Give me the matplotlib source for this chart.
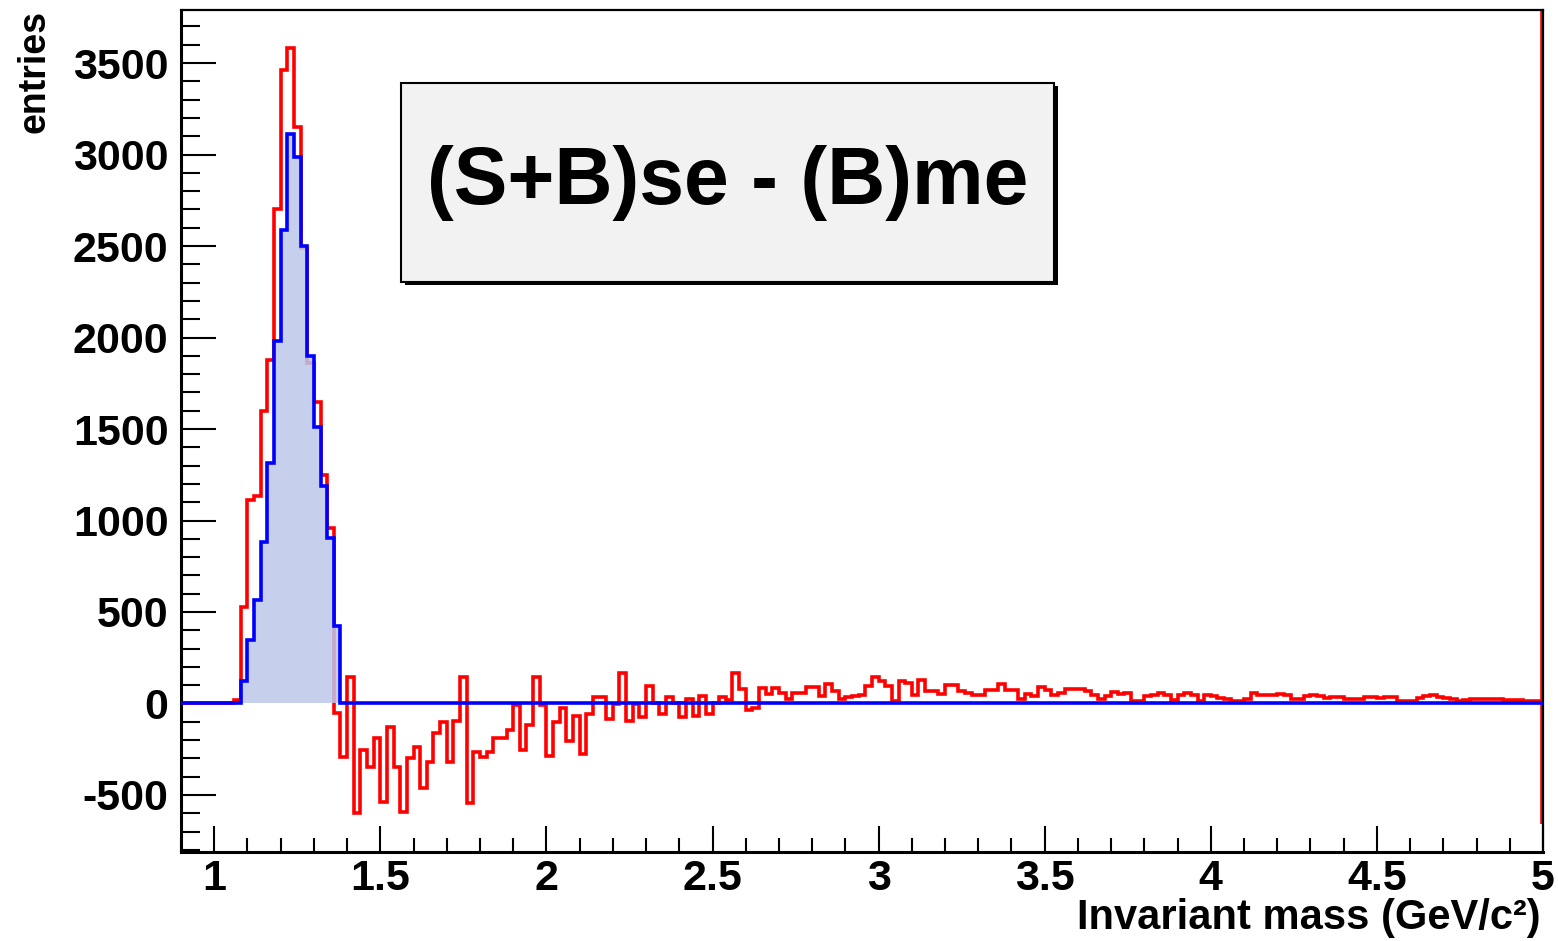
import matplotlib.pyplot as plt
import numpy as np
from matplotlib.ticker import MultipleLocator, FuncFormatter
from matplotlib.patches import Rectangle

plt.rcParams['font.family'] = ['Liberation Sans', 'DejaVu Sans']
plt.rcParams['font.weight'] = 'bold'
plt.rcParams['axes.unicode_minus'] = False

# bins of 0.02 GeV/c^2 from 0.9 to 5.0
x_lo = 0.9
x_hi = 5.0

# (S+B) same event - (B) mixed event, one value per bin
red = [
    0, 0, 0, 0, 0, 0, 0, 0, 20, 530,
    1110, 1135, 1600, 1875, 2700, 3460, 3580, 3150, 2490, 1860,
    1650, 1250, 960, -50, -290, 145, -600, -255, -346, -191,
    -537, -131, -346, -592, -300, -237, -464, -319, -164, -100,
    -319, -95, 146, -546, -264, -291, -264, -191, -191, -146,
    -10, -255, -118, 146, -9, -285, -100, -27, -205, -70,
    -277, -58, 33, 33, -86, -4, 169, -95, -4, -76,
    96, 5, -58, 33, 5, -76, 24, -67, 42, -58,
    5, 33, 20, 169, 78, -36, -22, 87, 51, 87,
    60, 22, 58, 58, 91, 91, 40, 109, 67, 22,
    35, 40, 49, 95, 144, 122, 95, 16, 122, 113,
    49, 131, 67, 67, 53, 100, 100, 67, 55, 46,
    49, 76, 76, 109, 76, 76, 22, 50, 40, 89,
    76, 45, 60, 80, 80, 80, 67, 49, 22, 40,
    64, 50, 58, 16, 16, 40, 49, 58, 49, 20,
    45, 60, 49, 13, 45, 40, 31, 22, 13, 15,
    22, 55, 46, 46, 46, 53, 45, 22, 25, 40,
    49, 40, 31, 35, 35, 27, 25, 22, 35, 33,
    31, 35, 35, 13, 13, 13, 30, 40, 46, 35,
    28, 22, 16, 18, 22, 27, 22, 22, 22, 18,
    18, 18, 16, 16, 16,
]

# signal peak, bins 1.08 .. 1.36, zero elsewhere
blue_peak = [123, 347, 563, 883, 1314, 1981, 2590, 3112, 2986, 2502,
             1898, 1511, 1189, 904, 423]
blue_start = 1.08

edges = np.linspace(x_lo, x_hi, len(red) + 1)
blue = np.zeros(len(red))
i0 = int(round((blue_start - x_lo) / 0.02))
blue[i0:i0 + len(blue_peak)] = blue_peak

edge_line_bottom = -660

fig = plt.figure(figsize=(15.58, 9.41), dpi=100)
ax = fig.add_axes([181 / 1558, 1 - 851.7 / 941, 1362 / 1558, 841.7 / 941])

ax.stairs(red, edges, color='#ff0000', lw=2.6, zorder=2)
ax.vlines(x_hi - 0.004, edge_line_bottom, 3790, color='#ff0000', lw=2.6, zorder=2)
ax.stairs(blue, edges, fill=True, color='#bcc8ea', alpha=0.85, zorder=3)
ax.stairs(blue, edges, color='#0000ff', lw=2.6, zorder=4)

ax.set_xlim(x_lo, x_hi)
ax.set_ylim(-810, 3790)

ax.set_xticks(np.arange(1, 5.01, 0.5))
ax.xaxis.set_minor_locator(MultipleLocator(0.1))
ax.set_yticks(np.arange(-500, 3501, 500))
ax.yaxis.set_minor_locator(MultipleLocator(100))
ax.xaxis.set_major_formatter(FuncFormatter(lambda v, p: f'{v:g}'))
ax.yaxis.set_major_formatter(FuncFormatter(lambda v, p: f'{v:.0f}'))

ax.tick_params(axis='both', which='both', direction='in', top=False, right=False,
               labelsize=31, width=1.5)
ax.tick_params(axis='x', which='major', length=19, pad=5)
ax.tick_params(axis='x', which='minor', length=10)
ax.tick_params(axis='y', which='major', length=25, pad=9)
ax.tick_params(axis='y', which='minor', length=14)

for s in ax.spines.values():
    s.set_linewidth(1.6)
ax.spines['left'].set_linewidth(2.2)
ax.spines['bottom'].set_linewidth(2.2)

ax.set_xlabel('Invariant mass (GeV/c²)', fontsize=30, fontweight='bold')
ax.xaxis.set_label_coords(0.998, -0.055)
ax.xaxis.label.set_horizontalalignment('right')
ax.set_ylabel('entries', fontsize=27, fontweight='bold', loc='top')
ax.yaxis.set_label_coords(-0.094, 1.0)

# title box with shadow
bx, by, bw, bh = 0.1615, 0.6768, 0.4795, 0.2365
ax.add_patch(Rectangle((bx + 0.003, by - 0.004), bw, bh, transform=ax.transAxes,
                       facecolor='#000000', edgecolor='none', zorder=5))
ax.add_patch(Rectangle((bx, by), bw, bh, transform=ax.transAxes,
                       facecolor='#f2f2f2', edgecolor='#000000', lw=1.5, zorder=6))
ax.text(bx + bw / 2, by + bh / 2, '(S+B)se - (B)me', transform=ax.transAxes,
        ha='center', va='center', fontsize=58, fontweight='bold', zorder=7)

fig.savefig('out.png', dpi=100)
